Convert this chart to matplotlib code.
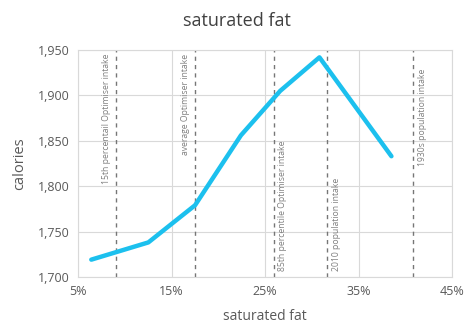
import matplotlib
matplotlib.use("Agg")
import matplotlib.pyplot as plt
from matplotlib.ticker import FuncFormatter

# data
sat_fat = [6.4, 12.5, 17.5, 22.4, 26.6, 30.8, 38.5]
calories = [1719, 1738, 1779, 1856, 1905, 1942, 1833]

ref_names = ["15th percentail Optimiser intake", "average Optimiser intake",
             "85th percentile Optimiser intake", "2010 population intake",
             "1930s population intake"]
ref_x = [9.0, 17.5, 25.9, 31.6, 40.8]

plt.rcParams["font.family"] = ["Open Sans", "DejaVu Sans"]
GREY = "#595959"

fig = plt.figure(figsize=(4.74, 3.34), dpi=100)
ax = fig.add_axes([0.165, 0.171, 0.789, 0.679])

ax.plot(sat_fat, calories, color="#1CC0EE", lw=3.2, solid_capstyle="round", zorder=3)

# label placement: (side, anchor y, va)
places = [("left", 1946, "top"), ("left", 1946, "top"),
          ("right", 1707, "bottom"), ("right", 1707, "bottom"),
          ("right", 1822, "bottom")]
for name, x, (side, yy, va) in zip(ref_names, ref_x, places):
    ax.axvline(x, color="#767676", lw=1.0, ls=(0, (3, 3)), zorder=2)
    dx = -0.5 if side == "left" else 0.5
    ax.text(x + dx, yy, name, rotation=90, fontsize=6.2, color="#7F7F7F",
            ha="right" if side == "left" else "left", va=va)

ax.set_xlim(5, 45)
ax.set_ylim(1700, 1950)
ax.set_xticks([5, 15, 25, 35, 45])
ax.set_yticks([1700, 1750, 1800, 1850, 1900, 1950])
ax.xaxis.set_major_formatter(FuncFormatter(lambda v, p: "{:.0f}%".format(v)))
ax.yaxis.set_major_formatter(FuncFormatter(lambda v, p: "{:,.0f}".format(v)))
ax.grid(True, color="#D9D9D9", lw=0.8, zorder=0)
for s in ax.spines.values():
    s.set_color("#D9D9D9")
ax.tick_params(length=0, labelsize=9, colors=GREY, pad=6)

ax.set_xlabel("saturated fat", fontsize=10, color=GREY, labelpad=8)
ax.set_ylabel("calories", fontsize=10.5, color=GREY, labelpad=8)
fig.suptitle("saturated fat", fontsize=13, color="#404040", y=0.965)

fig.savefig("out.png", dpi=100)
